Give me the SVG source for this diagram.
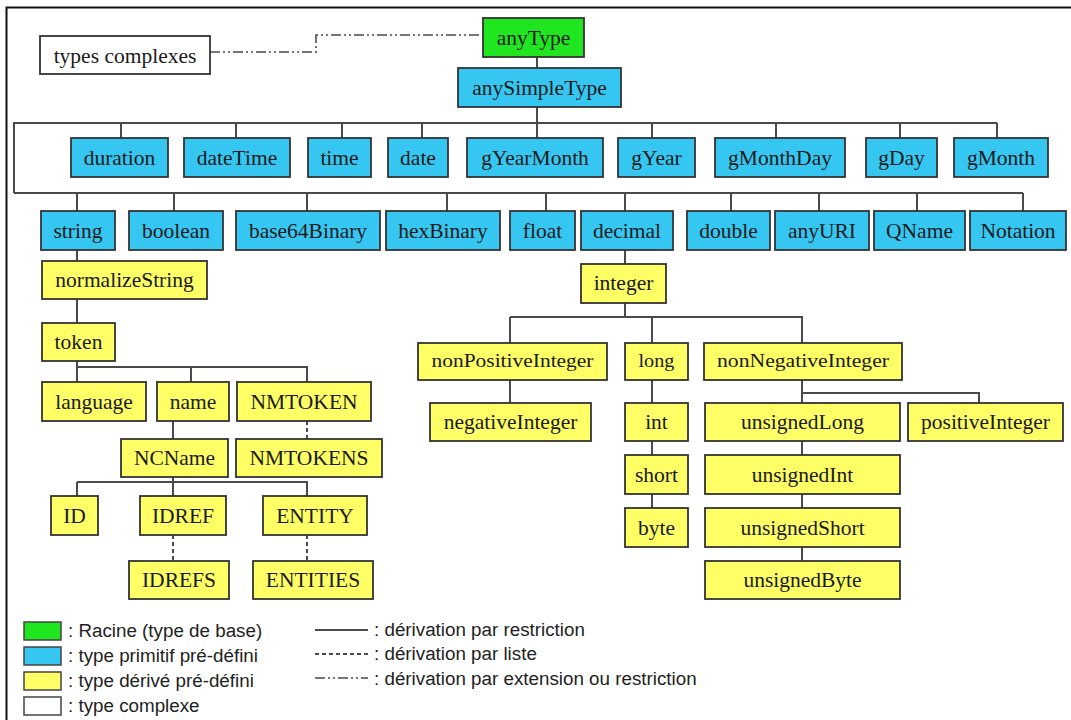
<svg xmlns="http://www.w3.org/2000/svg" width="1071" height="720" viewBox="0 0 1071 720">
  <style>
    .node rect { stroke: #333; stroke-width: 1.8; }
    .root rect { fill: #1fe61f; }
    .prim rect { fill: #35c7f2; }
    .der rect { fill: #ffff66; }
    .cplx rect { fill: #ffffff; }
    .node text { font-family: "Liberation Serif", "Times New Roman", serif; font-size: 21.5px; fill: #1a1a1a; text-anchor: middle; }
    .node text.small { font-size: 18px; }
    .restr { stroke: #4a4a4a; stroke-width: 2; fill: none; }
    .list { stroke: #4a4a4a; stroke-width: 2; fill: none; stroke-dasharray: 4 3; }
    .ext { stroke: #4a4a4a; stroke-width: 1.6; fill: none; stroke-dasharray: 10 3 2 3 2 3; }
    .legend text { font-family: "Liberation Sans", Arial, sans-serif; font-size: 18.8px; fill: #222; }
    .legend rect { stroke: #444; stroke-width: 1.5; }
  </style>

  <rect width="1071" height="720" fill="#ffffff"/>
  <!-- outer frame (right and bottom edges fall outside the canvas) -->
  <rect x="6.5" y="7.5" width="1100" height="760" fill="none" stroke="#111" stroke-width="2"/>

  <!-- connectors -->
  <g id="connectors">
    <!-- anyType / anySimpleType -->
    <path class="restr" d="M537,57 V68 M537,107 V123"/>
    <!-- primitive bus -->
    <path class="restr" d="M14,193 V123 H997 M14,193 H1023"/>
    <path class="restr" d="M121,123 V138 M236,123 V138 M342,123 V138 M422,123 V138 M537,123 V138 M652,123 V138 M776,123 V138 M900,123 V138 M997,123 V138"/>
    <path class="restr" d="M77,193 V211 M174,193 V211 M307,193 V211 M447,193 V211 M546,193 V211 M625,193 V211 M731,193 V211 M819,193 V211 M917,193 V211 M1023,193 V211"/>
    <!-- string branch -->
    <path class="restr" d="M77,250 V261 M77,299 V323 M77,361 V382 M77,367 H307 V382 M191,367 V382"/>
    <path class="restr" d="M173,421 V439 M173,477 V496 M77,482 H307 V496 M77,482 V496"/>
    <!-- decimal branch -->
    <path class="restr" d="M625,250 V264 M625,303 V317 M510,317 H802 V343 M510,317 V343 M652,317 V343"/>
    <path class="restr" d="M510,380 V403 M652,380 V403 M652,441 V455 M652,494 V508"/>
    <path class="restr" d="M802,380 V403 M802,393 H979 V403 M802,441 V455 M802,494 V508 M802,547 V561"/>
    <!-- list derivations -->
    <path class="list" d="M307,421 V439 M173,535 V561 M307,535 V561"/>
    <!-- complex types -->
    <path class="ext" d="M210,52 H316 V35 H483"/>
  </g>

  <!-- root -->
  <g id="anyType" class="node root"><rect x="483" y="18" width="101" height="39"/><text x="533.5" y="45">anyType</text></g>
  <g id="typesComplexes" class="node cplx"><rect x="40" y="36" width="170" height="38"/><text x="125" y="63">types complexes</text></g>
  <g id="anySimpleType" class="node prim"><rect x="458" y="68" width="163" height="39"/><text x="539.5" y="95">anySimpleType</text></g>

  <!-- primitive types, first row -->
  <g id="duration" class="node prim"><rect x="71" y="138" width="97" height="39"/><text x="119.5" y="165">duration</text></g>
  <g id="dateTime" class="node prim"><rect x="184" y="138" width="106" height="39"/><text x="237" y="165">dateTime</text></g>
  <g id="time" class="node prim"><rect x="308" y="138" width="63" height="39"/><text x="339.5" y="165">time</text></g>
  <g id="date" class="node prim"><rect x="388" y="138" width="60" height="39"/><text x="418" y="165">date</text></g>
  <g id="gYearMonth" class="node prim"><rect x="467" y="138" width="136" height="39"/><text x="535" y="165">gYearMonth</text></g>
  <g id="gYear" class="node prim"><rect x="618" y="138" width="77" height="39"/><text x="656.5" y="165">gYear</text></g>
  <g id="gMonthDay" class="node prim"><rect x="715" y="138" width="130" height="39"/><text x="780" y="165">gMonthDay</text></g>
  <g id="gDay" class="node prim"><rect x="866" y="138" width="71" height="39"/><text x="901.5" y="165">gDay</text></g>
  <g id="gMonth" class="node prim"><rect x="954" y="138" width="94" height="39"/><text x="1001" y="165">gMonth</text></g>

  <!-- primitive types, second row -->
  <g id="string" class="node prim"><rect x="41" y="211" width="74" height="39"/><text x="78" y="238">string</text></g>
  <g id="boolean" class="node prim"><rect x="129" y="211" width="94" height="39"/><text x="176" y="238">boolean</text></g>
  <g id="base64Binary" class="node prim"><rect x="236" y="211" width="144" height="39"/><text x="308" y="238">base64Binary</text></g>
  <g id="hexBinary" class="node prim"><rect x="386" y="211" width="114" height="39"/><text x="443" y="238">hexBinary</text></g>
  <g id="float" class="node prim"><rect x="510" y="211" width="65" height="39"/><text x="542.5" y="238">float</text></g>
  <g id="decimal" class="node prim"><rect x="581" y="211" width="92" height="39"/><text x="627" y="238">decimal</text></g>
  <g id="double" class="node prim"><rect x="687" y="211" width="83" height="39"/><text x="728.5" y="238">double</text></g>
  <g id="anyURI" class="node prim"><rect x="775" y="211" width="94" height="39"/><text x="822" y="238">anyURI</text></g>
  <g id="QName" class="node prim"><rect x="874" y="211" width="91" height="39"/><text x="919.5" y="238">QName</text></g>
  <g id="Notation" class="node prim"><rect x="970" y="211" width="96" height="39"/><text x="1018" y="238">Notation</text></g>

  <!-- string derived types -->
  <g id="normalizeString" class="node der"><rect x="42" y="261" width="165" height="38"/><text x="124.5" y="287">normalizeString</text></g>
  <g id="token" class="node der"><rect x="42" y="323" width="73" height="38"/><text x="78.5" y="349">token</text></g>
  <g id="language" class="node der"><rect x="42" y="382" width="104" height="39"/><text x="94" y="409">language</text></g>
  <g id="name" class="node der"><rect x="157" y="382" width="72" height="39"/><text x="193" y="409">name</text></g>
  <g id="NMTOKEN" class="node der"><rect x="237" y="382" width="134" height="39"/><text x="304" y="409">NMTOKEN</text></g>
  <g id="NCName" class="node der"><rect x="121" y="439" width="107" height="38"/><text x="174.5" y="465">NCName</text></g>
  <g id="NMTOKENS" class="node der"><rect x="236" y="439" width="146" height="38"/><text x="309" y="465">NMTOKENS</text></g>
  <g id="ID" class="node der"><rect x="51" y="496" width="47" height="39"/><text x="74.5" y="523">ID</text></g>
  <g id="IDREF" class="node der"><rect x="140" y="496" width="86" height="39"/><text x="183" y="523">IDREF</text></g>
  <g id="ENTITY" class="node der"><rect x="263" y="496" width="104" height="39"/><text x="315" y="523">ENTITY</text></g>
  <g id="IDREFS" class="node der"><rect x="129" y="561" width="100" height="38"/><text x="179" y="587">IDREFS</text></g>
  <g id="ENTITIES" class="node der"><rect x="253" y="561" width="120" height="38"/><text x="313" y="587">ENTITIES</text></g>

  <!-- decimal derived types -->
  <g id="integer" class="node der"><rect x="581" y="264" width="85" height="39"/><text x="623.5" y="290">integer</text></g>
  <g id="nonPositiveInteger" class="node der"><rect x="418" y="343" width="189" height="37"/><text class="small" x="512.5" y="367" textLength="162" lengthAdjust="spacingAndGlyphs">nonPositiveInteger</text></g>
  <g id="long" class="node der"><rect x="625" y="343" width="63" height="37"/><text class="small" x="656.5" y="367" textLength="36" lengthAdjust="spacingAndGlyphs">long</text></g>
  <g id="nonNegativeInteger" class="node der"><rect x="704" y="343" width="198" height="37"/><text class="small" x="803" y="367" textLength="172" lengthAdjust="spacingAndGlyphs">nonNegativeInteger</text></g>
  <g id="negativeInteger" class="node der"><rect x="430" y="403" width="161" height="38"/><text x="510.5" y="429">negativeInteger</text></g>
  <g id="int" class="node der"><rect x="625" y="403" width="63" height="38"/><text x="656.5" y="429">int</text></g>
  <g id="unsignedLong" class="node der"><rect x="705" y="403" width="195" height="38"/><text x="802.5" y="429">unsignedLong</text></g>
  <g id="positiveInteger" class="node der"><rect x="908" y="403" width="155" height="38"/><text x="985.5" y="429">positiveInteger</text></g>
  <g id="short" class="node der"><rect x="625" y="455" width="63" height="39"/><text x="656.5" y="482">short</text></g>
  <g id="unsignedInt" class="node der"><rect x="705" y="455" width="195" height="39"/><text x="802.5" y="482">unsignedInt</text></g>
  <g id="byte" class="node der"><rect x="625" y="508" width="63" height="39"/><text x="656.5" y="535">byte</text></g>
  <g id="unsignedShort" class="node der"><rect x="705" y="508" width="195" height="39"/><text x="802.5" y="535">unsignedShort</text></g>
  <g id="unsignedByte" class="node der"><rect x="705" y="561" width="195" height="38"/><text x="802.5" y="587">unsignedByte</text></g>

  <!-- legend -->
  <g id="legend" class="legend">
    <rect x="24" y="622" width="37" height="18" fill="#1fe61f"/>
    <rect x="24" y="647" width="37" height="18" fill="#35c7f2"/>
    <rect x="24" y="672" width="37" height="18" fill="#ffff66"/>
    <rect x="24" y="697" width="37" height="18" fill="#ffffff"/>
    <text x="68" y="637">: Racine (type de base)</text>
    <text x="68" y="662">: type primitif pré-défini</text>
    <text x="68" y="687">: type dérivé pré-défini</text>
    <text x="68" y="712">: type complexe</text>
    <path class="restr" d="M315,630 H368" stroke-width="1.6"/>
    <path class="list" d="M315,654 H368" stroke-width="1.3"/>
    <path class="ext" d="M315,678 H368" stroke-width="1.3"/>
    <text x="374" y="636">: dérivation par restriction</text>
    <text x="374" y="660">: dérivation par liste</text>
    <text x="374" y="685">: dérivation par extension ou restriction</text>
  </g>
</svg>
